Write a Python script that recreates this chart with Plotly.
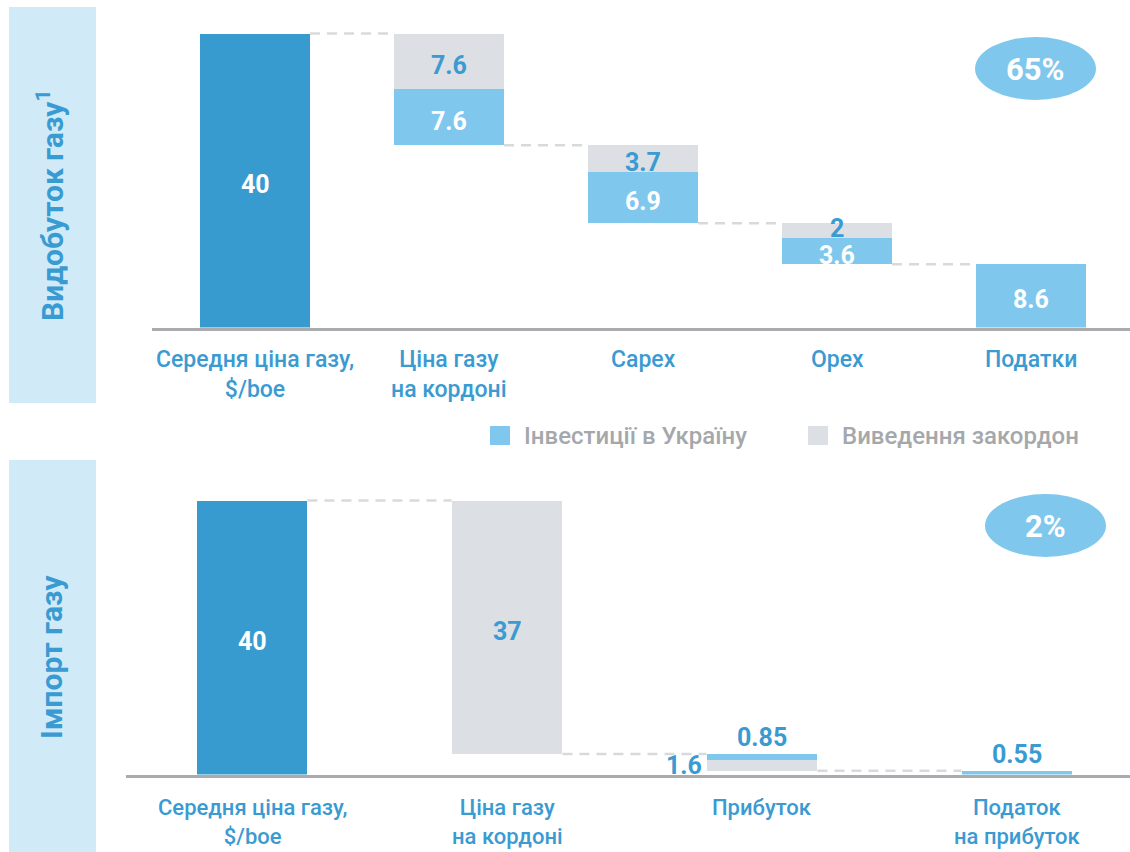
import plotly.graph_objects as go

# ---------------- data ----------------
top_categories = ["Середня ціна газу,<br>$/boe", "Ціна газу<br>на кордоні", "Capex", "Opex", "Податки"]
top_total = 40
top_invest = [None, 7.6, 6.9, 3.6, 8.6]      # Інвестиції в Україну
top_withdraw = [None, 7.6, 3.7, 2, None]     # Виведення закордон
top_share = "65%"

bottom_categories = ["Середня ціна газу,<br>$/boe", "Ціна газу<br>на кордоні", "Прибуток", "Податок<br>на прибуток"]
bottom_total = 40
bottom_invest = [None, None, 0.85, 0.55]
bottom_withdraw = [None, 37, 1.6, None]
bottom_share = "2%"

legend_labels = ["Інвестиції в Україну", "Виведення закордон"]
panel_titles = ["Видобуток газу<sup>1</sup>", "Імпорт газу"]

# ---------------- style ----------------
W, H = 1130, 852
DARK = "#389bcf"
LIGHT = "#80c7ed"
GREY = "#dcdfe3"
SIDE = "#d0eaf8"
TXT = "#3a9ad2"
LEG_TXT = "#a5a8ab"
AXIS = "#a9abae"
CONN = "#d7dadd"
FONT = "Roboto"
NUM_SIZE = 25


def px_x(p):
    return p / W


def px_y(p):
    return 1 - p / H


def segments(total, invest, withdraw, withdraw_on_top):
    """Return list of (idx, base, height, kind) and connector levels."""
    segs = [(0, 0, total, "total")]
    level = total
    levels = [total]
    for i in range(1, len(invest)):
        w = withdraw[i] or 0
        v = invest[i] or 0
        order = [("withdraw", w), ("invest", v)] if withdraw_on_top else [("invest", v), ("withdraw", w)]
        for kind, val in order:
            if val:
                segs.append((i, level - val, val, kind))
                level -= val
        levels.append(level)
    return segs, levels


fig = go.Figure()

panels = [
    dict(cats=top_categories, total=top_total, inv=top_invest, wd=top_withdraw, wtop=True,
         xa="x", ya="y", width=0.567, ppu=7.35, label_top=344, cat_size=23),
    dict(cats=bottom_categories, total=bottom_total, inv=bottom_invest, wd=bottom_withdraw, wtop=False,
         xa="x2", ya="y2", width=0.435, ppu=6.85, label_top=793, cat_size=22),
]

annotations = []
colors = {"total": DARK, "invest": LIGHT, "withdraw": GREY}
for p in panels:
    segs, levels = segments(p["total"], p["inv"], p["wd"], p["wtop"])
    n = len(p["cats"])
    for kind in ["total", "withdraw", "invest"]:
        xs, ys, bs = [], [], []
        for (i, b, h, k) in segs:
            if k == kind:
                xs.append(i)
                ys.append(h)
                bs.append(b)
        if xs:
            fig.add_trace(go.Bar(x=xs, y=ys, base=bs, width=p["width"],
                                 marker=dict(color=colors[kind], line=dict(width=0)),
                                 xaxis=p["xa"], yaxis=p["ya"], showlegend=False, hoverinfo="skip"))
    # connectors
    hw = p["width"] / 2
    for i in range(n - 1):
        lv = levels[i]
        fig.add_trace(go.Scatter(x=[i + hw, i + 1 - hw], y=[lv, lv], mode="lines",
                                 line=dict(color=CONN, width=2.5, dash="10px,7px"),
                                 xaxis=p["xa"], yaxis=p["ya"], showlegend=False, hoverinfo="skip"))
    # value labels
    bar_tops = {}
    for (i, b, h, k) in segs:
        bar_tops[i] = max(bar_tops.get(i, 0), b + h)
    for (i, b, h, k) in segs:
        txt = f"<b>{h:g}</b>"
        color = TXT if k == "withdraw" else "white"
        hpx = h * p["ppu"]
        if hpx >= 14:
            annotations.append(dict(x=i, y=b + h / 2, xref=p["xa"], yref=p["ya"], text=txt,
                                    xanchor="center", yanchor="middle", yshift=2 if hpx < 20 else -4,
                                    showarrow=False, font=dict(family=FONT, size=NUM_SIZE, color=color)))
        elif abs(b + h - bar_tops[i]) < 1e-9:
            annotations.append(dict(x=i, y=b + h, xref=p["xa"], yref=p["ya"], text=txt,
                                    showarrow=False, xanchor="center", yanchor="bottom", yshift=0,
                                    font=dict(family=FONT, size=NUM_SIZE, color=TXT)))
        else:
            annotations.append(dict(x=i - hw, y=b + h / 2, xref=p["xa"], yref=p["ya"], text=txt,
                                    showarrow=False, xanchor="right", yanchor="middle", xshift=-3,
                                    font=dict(family=FONT, size=NUM_SIZE, color=TXT)))
    # category labels
    for i, cat in enumerate(p["cats"]):
        annotations.append(dict(x=i, y=px_y(p["label_top"]), xref=p["xa"], yref="paper",
                                text=cat, showarrow=False, xanchor="center", yanchor="top",
                                font=dict(family=FONT, size=p["cat_size"], color=TXT, weight=500)))

shapes = [
    # side panels
    dict(type="rect", xref="paper", yref="paper", x0=px_x(9), x1=px_x(96), y0=px_y(403), y1=px_y(7),
         fillcolor=SIDE, line=dict(width=0), layer="below"),
    dict(type="rect", xref="paper", yref="paper", x0=px_x(9), x1=px_x(96), y0=px_y(852), y1=px_y(460),
         fillcolor=SIDE, line=dict(width=0), layer="below"),
    # ovals
    dict(type="circle", xref="paper", yref="paper", x0=px_x(975), x1=px_x(1096), y0=px_y(100), y1=px_y(37),
         fillcolor=LIGHT, line=dict(width=0)),
    dict(type="circle", xref="paper", yref="paper", x0=px_x(985), x1=px_x(1106), y0=px_y(557), y1=px_y(494),
         fillcolor=LIGHT, line=dict(width=0)),
    # legend swatches
    dict(type="rect", xref="paper", yref="paper", x0=px_x(490), x1=px_x(510), y0=px_y(445), y1=px_y(426),
         fillcolor=LIGHT, line=dict(width=0)),
    dict(type="rect", xref="paper", yref="paper", x0=px_x(808), x1=px_x(828), y0=px_y(445), y1=px_y(426),
         fillcolor=GREY, line=dict(width=0)),
]

annotations += [
    dict(x=px_x(51), y=px_y(205), xref="paper", yref="paper", text=f"<b>{panel_titles[0]}</b>", textangle=-90,
         xanchor="center", yanchor="middle", showarrow=False, font=dict(family=FONT, size=30, color=TXT)),
    dict(x=px_x(51), y=px_y(657), xref="paper", yref="paper", text=f"<b>{panel_titles[1]}</b>", textangle=-90,
         xanchor="center", yanchor="middle", showarrow=False, font=dict(family=FONT, size=30, color=TXT)),
    dict(x=px_x(1035), y=px_y(69), xref="paper", yref="paper", text=f"<b>{top_share}</b>",
         xanchor="center", yanchor="middle", showarrow=False, font=dict(family=FONT, size=31, color="white")),
    dict(x=px_x(1045), y=px_y(526), xref="paper", yref="paper", text=f"<b>{bottom_share}</b>",
         xanchor="center", yanchor="middle", showarrow=False, font=dict(family=FONT, size=31, color="white")),
    dict(x=px_x(522), y=px_y(436), xref="paper", yref="paper", text=legend_labels[0], xanchor="left",
         yanchor="middle", showarrow=False, font=dict(family=FONT, size=24, color=LEG_TXT, weight=500)),
    dict(x=px_x(840), y=px_y(436), xref="paper", yref="paper", text=legend_labels[1], xanchor="left",
         yanchor="middle", showarrow=False, font=dict(family=FONT, size=24, color=LEG_TXT, weight=500)),
]

fig.update_layout(
    width=W, height=H, margin=dict(l=0, r=0, t=0, b=0),
    paper_bgcolor="white", plot_bgcolor="rgba(0,0,0,0)",
    barmode="overlay", bargap=0, showlegend=False,
    shapes=shapes, annotations=annotations,
    xaxis=dict(domain=[px_x(152), 1], range=[-(255 - 152) / 194, 4 + (1130 - 1031) / 194],
               tickvals=list(range(len(top_categories))), showticklabels=False,
               showline=True, linecolor=AXIS, linewidth=3, showgrid=False, zeroline=False,
               ticks="", anchor="y", fixedrange=True),
    yaxis=dict(domain=[px_y(327.5), px_y(10)], range=[0, (327.5 - 10) / 7.35], visible=False,
               showgrid=False, zeroline=False, anchor="x", fixedrange=True),
    xaxis2=dict(domain=[px_x(126), 1], range=[-(252 - 126) / 255, 3 + (1130 - 1017) / 255],
                tickvals=list(range(len(bottom_categories))), showticklabels=False,
                showline=True, linecolor=AXIS, linewidth=3, showgrid=False, zeroline=False,
                ticks="", anchor="y2", fixedrange=True),
    yaxis2=dict(domain=[px_y(774.5), px_y(470)], range=[0, (774.5 - 470) / 6.85], visible=False,
                showgrid=False, zeroline=False, anchor="x2", fixedrange=True),
)

fig.write_html("out.html", config={"displayModeBar": False},
               post_script="document.body.style.margin='0px';")
